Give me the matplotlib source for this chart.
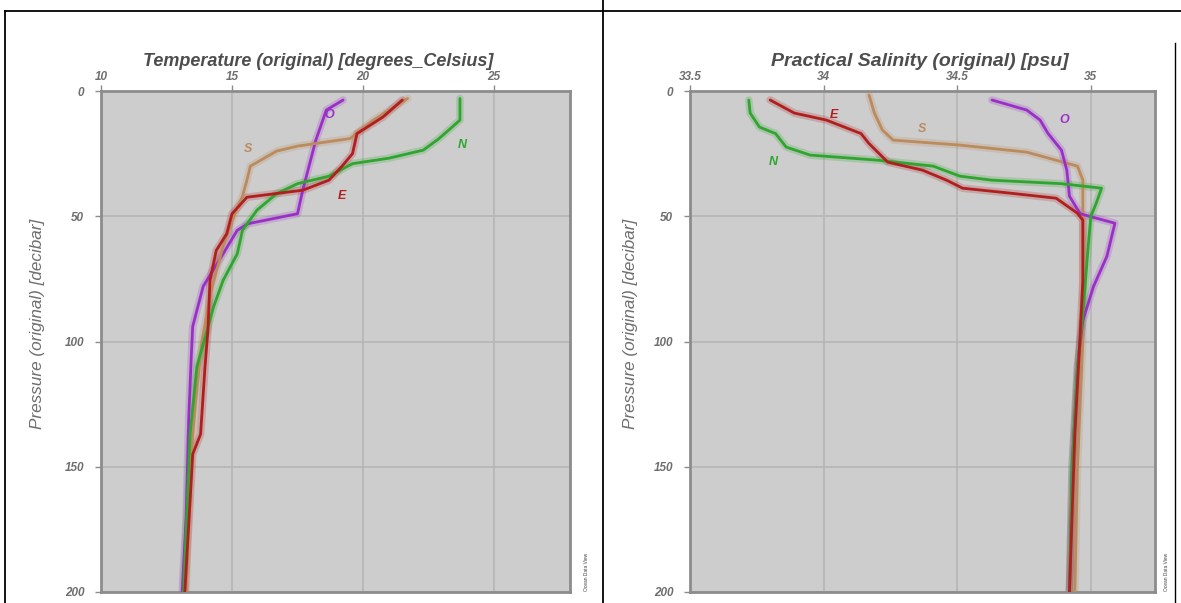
import matplotlib
matplotlib.use("Agg")
import matplotlib.pyplot as plt
from matplotlib.lines import Line2D

plt.rcParams['font.family'] = ['Liberation Sans', 'DejaVu Sans']

# ---------------- data ----------------
# Temperature profiles (degrees C) vs pressure (decibar)
temp_O_t = [19.24, 18.6, 18.2, 17.9, 17.7, 17.5, 15.6, 15.2, 14.66, 13.9, 13.5, 13.45, 13.35, 13.25, 13.1]
temp_O_p = [3.6, 7.6, 19.6, 31.6, 39.6, 49, 53, 55.6, 65, 78, 94, 105, 130, 170, 200]

temp_E_t = [21.5, 20.76, 19.77, 19.6, 19.2, 18.7, 17.7, 15.57, 15.0, 14.8, 14.4, 14.16, 14.08, 13.97, 13.8, 13.5, 13.4, 13.2]
temp_E_p = [3.6, 10.4, 17, 25, 30, 35.6, 39.6, 42.4, 49, 57, 63.6, 75.6, 95.6, 110, 137, 145, 163.6, 200]

temp_S_t = [21.7, 20.4, 19.5, 17.5, 16.7, 15.7, 15.57, 15.4, 15.0, 14.66, 14.2, 13.85, 13.6, 13.4, 13.25]
temp_S_p = [3, 11.6, 19, 22, 24, 30, 35.6, 42, 51.6, 62, 80, 100, 125, 150, 200]

temp_N_t = [23.7, 23.7, 23.4, 22.9, 22.3, 21.0, 19.6, 18.7, 17.5, 16.7, 15.95, 15.4, 15.2, 14.66, 14.3, 14.05, 13.66, 13.4, 13.3, 13.15]
temp_N_p = [3, 11.6, 14.4, 19, 23.6, 26.8, 29, 34, 37, 41, 47.6, 55.6, 65, 75.6, 86, 95.6, 110, 137, 163.6, 200]

# Salinity profiles (psu) vs pressure (decibar)
sal_N_s = [33.72, 33.725, 33.76, 33.82, 33.86, 33.95, 34.2, 34.41, 34.51, 34.63, 34.89, 35.04, 35.02, 35.0, 34.99, 34.97, 34.95, 34.93, 34.92]
sal_N_p = [3.6, 8.8, 14.4, 17, 22.4, 25.6, 27.6, 30, 34, 35.6, 37, 38.8, 44.8, 50, 62, 89, 110, 150, 200]

sal_E_s = [33.8, 33.89, 34.01, 34.14, 34.17, 34.24, 34.37, 34.46, 34.52, 34.7, 34.87, 34.95, 34.97, 34.97, 34.96, 34.94, 34.92]
sal_E_p = [3.6, 8.8, 11.6, 17, 21, 28.4, 31.6, 35.6, 38.8, 40.8, 42.8, 48.8, 51.6, 75.6, 97, 137, 200]

sal_S_s = [34.17, 34.19, 34.22, 34.26, 34.51, 34.76, 34.95, 34.97, 34.97, 34.97, 34.95, 34.94]
sal_S_p = [1.6, 8.8, 15.6, 19.6, 21.6, 24.4, 30, 35.6, 49, 100, 150, 200]

sal_O_s = [34.63, 34.76, 34.81, 34.84, 34.89, 34.91, 34.92, 34.96, 35.09, 35.06, 35.01, 34.97, 34.95, 34.93, 34.92]
sal_O_p = [3.6, 7.6, 11.6, 17, 23.6, 31.6, 42, 49, 52.8, 66, 78, 91.6, 110, 150, 200]

# in-plot station labels: (text, x, pressure)
temp_labels = [("O", 18.7, 9.6), ("S", 15.6, 23), ("E", 19.2, 42), ("N", 23.8, 21.6)]
sal_labels = [("E", 34.04, 9.6), ("S", 34.37, 15), ("O", 34.9, 11.6), ("N", 33.81, 28.4)]

temp_ticks = [10, 15, 20, 25]
sal_ticks = [33.5, 34, 34.5, 35]
sal_ticklabels = ["33.5", "34", "34.5", "35"]
pres_ticks = [0, 50, 100, 150, 200]

colors = {"O": "#9a2fc8", "E": "#b01e1e", "S": "#bb8b5e", "N": "#2fa52f"}

# ---------------- figure ----------------
W, H = 1181, 603
fig = plt.figure(figsize=(W / 100, H / 100), dpi=100)
fig.patch.set_facecolor("white")


def fline(x0, y0, x1, y1, lw=1.3):
    fig.add_artist(Line2D([x0 / W, x1 / W], [1 - y0 / H, 1 - y1 / H],
                          transform=fig.transFigure, color="black", lw=lw))


fline(5, 11, W, 11)
fline(5, 11, 5, H)
fline(603, 0, 603, H)
fline(1175, 43, 1175, H, lw=1.0)

bg = "#cdcdcd"
gridc = "#b5b5b5"
framec = "#8c8c8c"
textc = "#6e6e6e"
titlec = "#4d4d4d"


def setup(ax, xlim, xticks, xticklabels, title, tsize, tx, ylab_px):
    ax.set_facecolor(bg)
    ax.set_xlim(*xlim)
    ax.set_ylim(200, 0)
    ax.xaxis.tick_top()
    ax.xaxis.set_label_position("top")
    ax.set_xticks(xticks)
    ax.set_xticklabels(xticklabels)
    ax.set_yticks(pres_ticks)
    ax.grid(True, color=gridc, lw=1.2)
    ax.set_axisbelow(True)
    for s in ax.spines.values():
        s.set_color(framec)
        s.set_linewidth(2)
    ax.tick_params(axis="both", colors=framec, length=4, width=1,
                   labelsize=8.5, labelcolor=textc)
    ax.tick_params(axis="x", pad=2)
    ax.tick_params(axis="y", pad=8)
    for lab in ax.get_xticklabels() + ax.get_yticklabels():
        lab.set_fontstyle("italic")
        lab.set_fontweight("bold")
    ax.set_xlabel(title, fontsize=tsize, fontstyle="italic", fontweight="bold",
                  color=titlec)
    ax.xaxis.set_label_coords(tx, 1.0 + 21 / 501)
    ax.xaxis.label.set_va("bottom")
    ax.set_ylabel("Pressure (original) [decibar]", fontsize=12.3, fontstyle="italic",
                  color=textc)
    wpx = ax.get_position().width * W
    ax.yaxis.set_label_coords(-ylab_px / wpx, 0.535)


def draw(ax, x, p, c):
    ax.plot(x, p, color=c, lw=5.5, alpha=0.22, solid_capstyle="round", zorder=2)
    ax.plot(x, p, color=c, lw=2.0, solid_capstyle="round", zorder=3)


ax1 = fig.add_axes([101 / W, 1 - 592 / H, (570 - 101) / W, (592 - 91) / H])
setup(ax1, (10, 27.9), temp_ticks, [str(t) for t in temp_ticks],
      "Temperature (original) [degrees_Celsius]", 13, (318 - 101) / 469, 56)
draw(ax1, temp_O_t, temp_O_p, colors["O"])
draw(ax1, temp_S_t, temp_S_p, colors["S"])
draw(ax1, temp_N_t, temp_N_p, colors["N"])
draw(ax1, temp_E_t, temp_E_p, colors["E"])
for t, x, p in temp_labels:
    ax1.text(x, p, t, color=colors[t], fontsize=9, fontweight="bold",
             fontstyle="italic", ha="center", va="center", zorder=4)

ax2 = fig.add_axes([690 / W, 1 - 592 / H, (1155 - 690) / W, (592 - 91) / H])
setup(ax2, (33.5, 35.24), sal_ticks, sal_ticklabels,
      "Practical Salinity (original) [psu]", 14, (920 - 690) / 465, 52)
draw(ax2, sal_S_s, sal_S_p, colors["S"])
draw(ax2, sal_O_s, sal_O_p, colors["O"])
draw(ax2, sal_N_s, sal_N_p, colors["N"])
draw(ax2, sal_E_s, sal_E_p, colors["E"])
for t, x, p in sal_labels:
    ax2.text(x, p, t, color=colors[t], fontsize=9, fontweight="bold",
             fontstyle="italic", ha="center", va="center", zorder=4)

# watermark
for xw in (586, 1167):
    fig.text(xw / W, 1 - 572 / H, "Ocean Data View", rotation=90, fontsize=3.5,
             color="#444444", ha="center", va="center")

fig.savefig("out.png", dpi=100)
